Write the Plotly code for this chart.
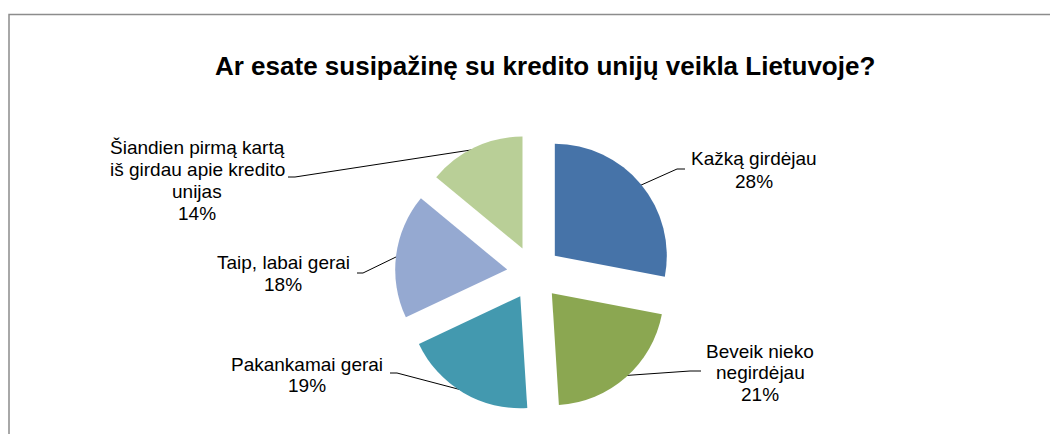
import math
import plotly.graph_objects as go

# ---- data ----
categories = ["Kažką girdėjau", "Beveik nieko negirdėjau", "Pakankamai gerai",
              "Taip, labai gerai", "Šiandien pirmą kartą iš girdau apie kredito unijas"]
label_lines = [["Kažką girdėjau"], ["Beveik nieko", "negirdėjau"], ["Pakankamai gerai"],
               ["Taip, labai gerai"], ["Šiandien pirmą kartą", "iš girdau apie kredito", "unijas"]]
values = [28, 21, 19, 18, 14]
colors = ["#4673A8", "#8BA751", "#4399AF", "#95A9D1", "#B9CF97"]

TITLE = "Ar esate susipažinę su kredito unijų veikla Lietuvoje?"

# ---- layout (screen pixel space; page body has an 8px margin) ----
W, H = 1058, 434
OFF = 8
CX, CY = 534, 273
R, D = 112, 27            # slice radius and explode distance (px)
PULL = D / R
RD = R + D
FONT = "Liberation Sans, Arial, sans-serif"
LAB_SIZE = 19

# label placement (layout): centre x and per-line y
lab_x = [754, 760, 307, 283, 197]
lab_y = [[157, 180], [350, 371, 393], [363, 384], [261, 283], [146, 168, 190, 212]]
line_end = [(685, 169), (701, 371), (390, 373), (357, 273), (288, 177)]
elbow = [(677, 169), (690, 371), (397, 373), (363, 273), (295, 177)]

fig = go.Figure()

fig.add_trace(go.Pie(
    labels=categories, values=values, sort=False, direction="clockwise", rotation=0,
    marker=dict(colors=colors, line=dict(width=0)),
    pull=[PULL] * len(values), textinfo="none", hoverinfo="label+percent",
    showlegend=False,
    domain=dict(x=[(CX - OFF - RD) / W, (CX - OFF + RD) / W],
                y=[1 - (CY - OFF + RD) / H, 1 - (CY - OFF - RD) / H]),
))

# leader lines from slice mid-angles
total = sum(values)
cum = 0
for i, v in enumerate(values):
    mid = (cum + v / 2) / total * 2 * math.pi
    cum += v
    dist = D + R * 0.98
    tx = CX + dist * math.sin(mid)
    ty = CY - dist * math.cos(mid)
    fig.add_trace(go.Scatter(
        x=[tx, elbow[i][0], line_end[i][0]], y=[ty, elbow[i][1], line_end[i][1]],
        mode="lines", line=dict(color="#000000", width=1), hoverinfo="skip",
        showlegend=False, xaxis="x", yaxis="y"))
    pct = round(v / total * 100)
    lines = label_lines[i] + [f"{pct}%"]
    for txt, yy in zip(lines, lab_y[i]):
        fig.add_annotation(x=lab_x[i], y=yy + 1, xref="x", yref="y", text=txt,
                           showarrow=False, xanchor="center", yanchor="middle",
                           font=dict(family=FONT, size=LAB_SIZE, color="#000000"))

fig.add_annotation(x=545, y=66, xref="x", yref="y", text=f"<b>{TITLE}</b>",
                   showarrow=False, xanchor="center", yanchor="middle",
                   font=dict(family=FONT, size=26, color="#000000"))

# outer chart frame
fig.add_shape(type="rect", xref="x", yref="y", x0=OFF + 1, y0=14.5, x1=1052.5, y1=460,
              line=dict(color="#8C8C8C", width=1.5), fillcolor="rgba(0,0,0,0)", layer="below")

fig.update_layout(
    width=W, height=H, margin=dict(l=0, r=0, t=0, b=0),
    paper_bgcolor="white", plot_bgcolor="rgba(0,0,0,0)",
    xaxis=dict(range=[OFF, W + OFF], visible=False, domain=[0, 1], fixedrange=True),
    yaxis=dict(range=[H + OFF, OFF], visible=False, domain=[0, 1], fixedrange=True),
    showlegend=False,
)

fig.write_html("out.html")
